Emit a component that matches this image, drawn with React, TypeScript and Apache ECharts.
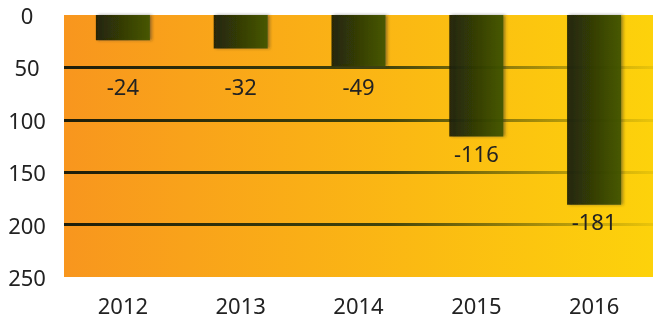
import React, { useEffect, useRef } from "react";
import * as echarts from "echarts";

const years = ["2012", "2013", "2014", "2015", "2016"];
const values = [-24, -32, -49, -116, -181];
const yMin = -250;
const yMax = 0;
const yStep = 50;

export default function App() {
  const ref = useRef<HTMLDivElement>(null);
  useEffect(() => {
    if (!ref.current) return;
    const chart = echarts.init(ref.current, null, { renderer: "svg" });
    const font = "'Noto Sans', sans-serif";
    chart.setOption({
      animation: false,
      grid: {
        left: 64,
        right: 0,
        top: 15,
        bottom: 45,
        show: true,
        borderWidth: 0,
        backgroundColor: new echarts.graphic.LinearGradient(0, 0, 1, 0, [
          { offset: 0, color: "#F8961E" },
          { offset: 1, color: "#FDD20B" },
        ]),
      },
      xAxis: {
        type: "category",
        data: years,
        axisLine: { show: false },
        axisTick: { show: false },
        axisLabel: { fontSize: 22, color: "#222", fontFamily: font, margin: 17 },
      },
      yAxis: {
        type: "value",
        min: yMin,
        max: yMax,
        interval: yStep,
        axisLine: { show: false },
        axisTick: { show: false },
        axisLabel: {
          fontSize: 22,
          lineHeight: 22,
          color: "#222",
          fontFamily: font,
          align: "center",
          margin: 37,
          formatter: (v: number) => String(Math.abs(v)),
        },
        splitLine: {
          show: true,
          showMinLine: false,
          showMaxLine: false,
          lineStyle: {
            width: 3,
            color: new echarts.graphic.LinearGradient(64, 0, 653, 0, [
              { offset: 0, color: "rgba(30,30,10,1)" },
              { offset: 0.55, color: "rgba(45,55,10,0.9)" },
              { offset: 1, color: "rgba(60,75,0,0.1)" },
            ], true),
          },
        },
      },
      series: [
        {
          type: "bar",
          data: values,
          barWidth: 54,
          itemStyle: {
            color: new echarts.graphic.LinearGradient(0, 0, 1, 0, [
              { offset: 0, color: "rgba(25,30,6,0.92)" },
              { offset: 1, color: "rgba(65,85,0,0.92)" },
            ]),
            shadowBlur: 3,
            shadowOffsetX: 2,
            shadowColor: "rgba(40,40,40,0.5)",
          },
          label: {
            show: true,
            position: "bottom",
            distance: 5,
            fontSize: 22,
            color: "#222",
            fontFamily: font,
            formatter: "{c}",
          },
          labelLayout: (params: any) => {
            const r = params.labelRect;
            const firstLine = chart.convertToPixel({ yAxisIndex: 0 }, -yStep) as number;
            const minTop = firstLine + 8;
            if (r.y < minTop) {
              return {
                x: r.x + r.width / 2,
                y: minTop,
                align: "center",
                verticalAlign: "top",
              };
            }
            return {};
          },
        },
      ],
    });
    return () => chart.dispose();
  }, []);
  return (
    <div
      ref={ref}
      style={{ position: "fixed", left: 0, top: 0, width: 653, height: 322 }}
    />
  );
}
